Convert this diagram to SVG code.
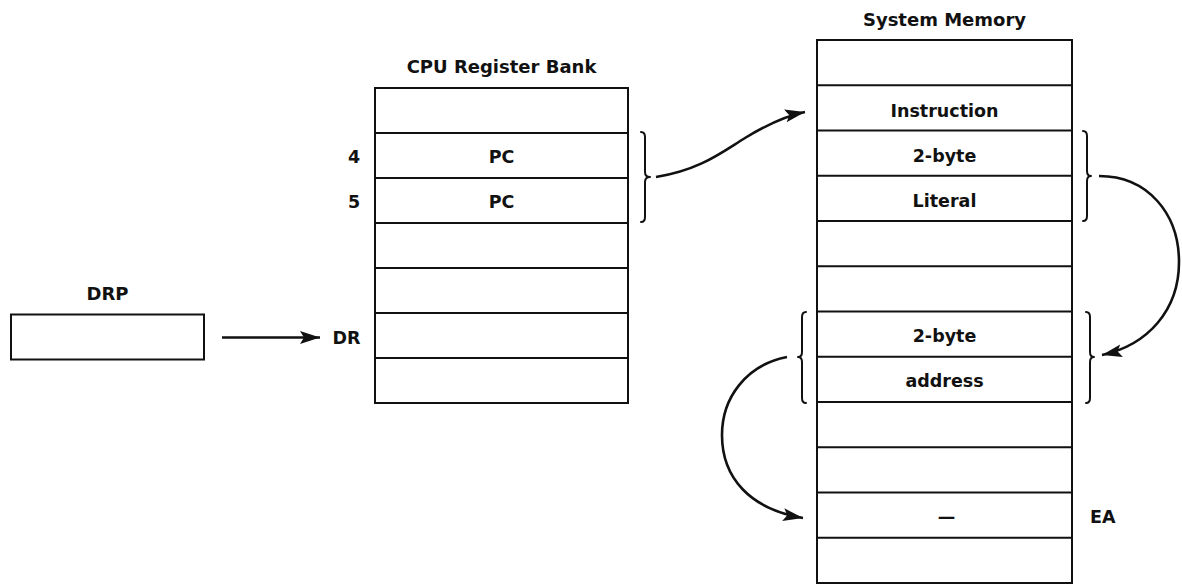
<svg xmlns="http://www.w3.org/2000/svg" width="1182" height="584" viewBox="0 0 1182 584">
<defs>
<style>
.box{fill:#fff;stroke:#111;stroke-width:2}
.div{stroke:#111;stroke-width:1.8;fill:none}
.t{font-family:"DejaVu Sans","Liberation Sans",sans-serif;font-weight:bold;font-size:17.5px;fill:#111}
.title{font-size:18px}
.c{text-anchor:middle}
.brace{fill:none;stroke:#111;stroke-width:2;stroke-linecap:round;stroke-linejoin:round}
.conn{fill:none;stroke:#111;stroke-width:2.6}
</style>
<marker id="ah" markerUnits="userSpaceOnUse" markerWidth="22" markerHeight="14" refX="20" refY="6.5" orient="auto">
<path d="M0,0 L20,6.5 L0,13 L4,6.5 Z" fill="#111"/>
</marker>
</defs>
<rect width="1182" height="584" fill="#fff"/>

<g id="drp">
<text class="t title c" x="107.5" y="300">DRP</text>
<rect class="box" x="11" y="314.5" width="193" height="45"/>
</g>

<g id="cpu-register-bank">
<text class="t title c" x="501.5" y="72.7">CPU Register Bank</text>
<rect class="box" x="375" y="88" width="253" height="315"/>
<path class="div" d="M375 133H628M375 178H628M375 223H628M375 268H628M375 313H628M375 358H628"/>
<text class="t c" x="501.5" y="163.3">PC</text>
<text class="t c" x="501.5" y="208.3">PC</text>
<text class="t c" x="354" y="163.3">4</text>
<text class="t c" x="354" y="208.3">5</text>
<text class="t c" x="346.5" y="344">DR</text>
</g>

<g id="system-memory">
<text class="t title c" x="944.5" y="26">System Memory</text>
<rect class="box" x="817" y="40" width="255" height="543"/>
<path class="div" d="M817 85.25H1072M817 130.5H1072M817 175.75H1072M817 221H1072M817 266.25H1072M817 311.5H1072M817 356.75H1072M817 402H1072M817 447.25H1072M817 492.5H1072M817 537.75H1072"/>
<text class="t c" x="944.5" y="116.5">Instruction</text>
<text class="t c" x="944.5" y="161.7">2-byte</text>
<text class="t c" x="944.5" y="207">Literal</text>
<text class="t c" x="944.5" y="341.7">2-byte</text>
<text class="t c" x="944.5" y="386.8">address</text>
<text class="t c" x="946.5" y="523.3">—</text>
<text class="t" x="1090" y="523.3">EA</text>
</g>

<g id="braces">
<path class="brace" d="M641 132Q645 132 645 137L645 172Q645 177 650 177Q645 177 645 182L645 217Q645 222 641 222"/>
<path class="brace" d="M1083 131Q1087 131 1087 136L1087 171Q1087 176 1091 176Q1087 176 1087 181L1087 216Q1087 221 1083 221"/>
<path class="brace" d="M1086 312Q1090 312 1090 317L1090 352Q1090 357 1094 357Q1090 357 1090 362L1090 398Q1090 403 1086 403"/>
<path class="brace" d="M806 312Q802 312 802 317L802 352Q802 357 798 357Q802 357 802 362L802 398Q802 403 806 403"/>
</g>

<g id="connectors">
<line class="conn" x1="222" y1="337.5" x2="320" y2="337.5" marker-end="url(#ah)"/>
<path class="conn" d="M656 177C700 170 722 152 745 138C768 124 785 116 805 112" marker-end="url(#ah)"/>
<path class="conn" d="M1099 176C1148 176 1179 214 1179 262C1179 310 1148 345 1102 355" marker-end="url(#ah)"/>
<path class="conn" d="M787 357C746 365 722 398 722 435C722 478 750 509 803 518" marker-end="url(#ah)"/>
</g>
</svg>
